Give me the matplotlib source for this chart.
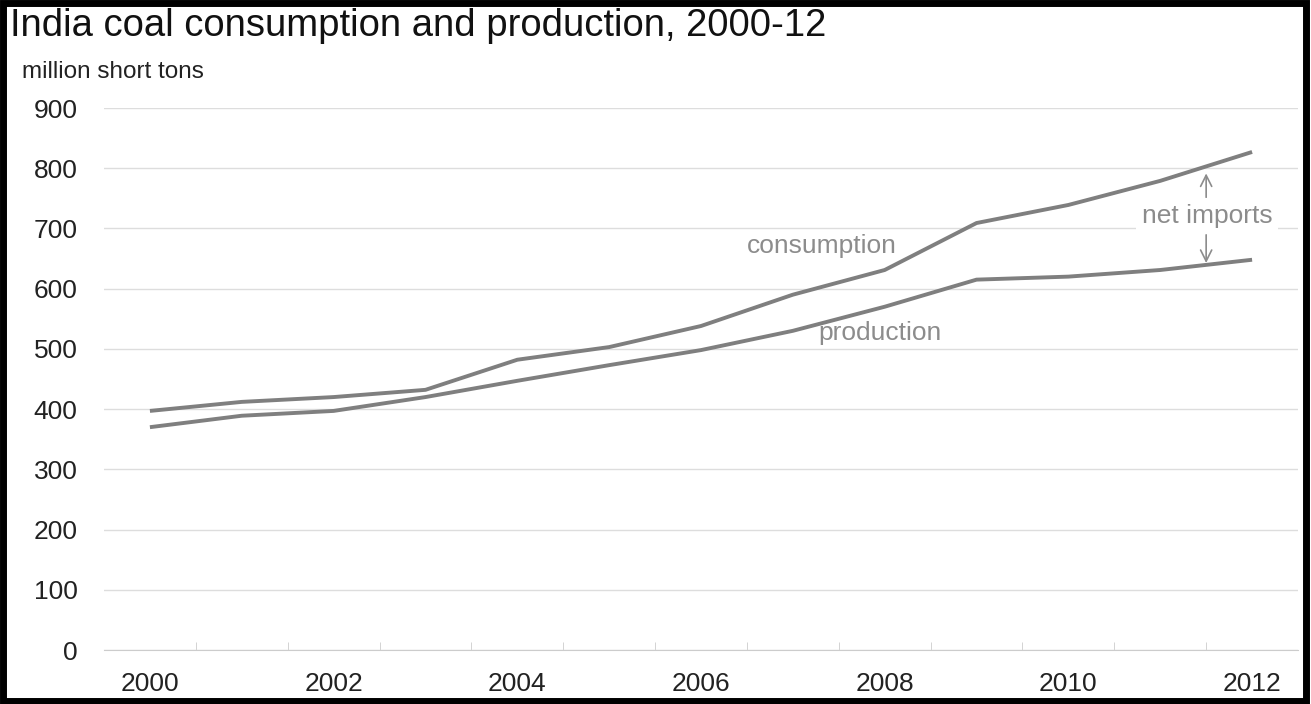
import matplotlib.pyplot as plt
from matplotlib.patches import Rectangle

years = list(range(2000, 2013))
consumption = [397, 412, 420, 432, 482, 503, 538, 590, 631, 709, 739, 779, 827]
production = [370, 389, 397, 420, 447, 473, 498, 530, 570, 615, 620, 631, 648]
yticks = [0, 100, 200, 300, 400, 500, 600, 700, 800, 900]

plt.rcParams['font.family'] = ['Liberation Sans', 'DejaVu Sans']

fig = plt.figure(figsize=(13.11, 7.04), dpi=100)
ax = fig.add_axes([104 / 1311, 1 - 650 / 704, (1298 - 104) / 1311, (650 - 108) / 704])

line_color = '#7f7f7f'
ax.plot(years, consumption, color=line_color, lw=2.8, solid_capstyle='butt', zorder=3)
ax.plot(years, production, color=line_color, lw=2.8, solid_capstyle='butt', zorder=3)

ax.set_xlim(1999.5, 2012.5)
ax.set_ylim(0, 900)
ax.set_yticks(yticks)
ax.set_yticklabels([str(v) for v in yticks], fontsize=19, color='#222222')
ax.set_xticks(years[::2])
ax.set_xticklabels([str(y) for y in years[::2]], fontsize=19, color='#222222')
ax.set_xticks([y + 0.5 for y in years[:-1]], minor=True)
ax.tick_params(axis='y', length=0, pad=19)
ax.tick_params(axis='x', which='major', length=0, pad=16)
ax.tick_params(axis='x', which='minor', length=6, color='#cccccc', direction='in')
ax.grid(axis='y', color='#dddddd', lw=1)
ax.set_axisbelow(True)
for s in ['top', 'right', 'left']:
    ax.spines[s].set_visible(False)
ax.spines['bottom'].set_color('#cccccc')

ann_color = '#8c8c8c'
ax.text(2007.31, 671, 'consumption', fontsize=19, color=ann_color, ha='center', va='center')
ax.text(2007.95, 527, 'production', fontsize=19, color=ann_color, ha='center', va='center')
ax.text(2011.51, 721, 'net imports', fontsize=19, color=ann_color, ha='center', va='center',
        bbox=dict(facecolor='white', edgecolor='none', pad=4), zorder=4)
arrow = dict(arrowstyle='->,head_length=0.8,head_width=0.4', color=ann_color, lw=1.2)
ax.annotate('', xy=(2011.5, 796), xytext=(2011.5, 747), arrowprops=arrow)
ax.annotate('', xy=(2011.5, 638), xytext=(2011.5, 694), arrowprops=arrow)

fig.text(10 / 1311, 1 - 26 / 704, 'India coal consumption and production, 2000-12',
         fontsize=27.5, color='#111111', va='center', ha='left')
fig.text(22 / 1311, 1 - 72 / 704, 'million short tons', fontsize=17.5, color='#222222',
         va='center', ha='left')

fig.patches.append(Rectangle((0.0025, 0.004), 0.994, 0.992, transform=fig.transFigure,
                             fill=False, edgecolor='black', lw=5))

fig.savefig('out.png', dpi=100)
